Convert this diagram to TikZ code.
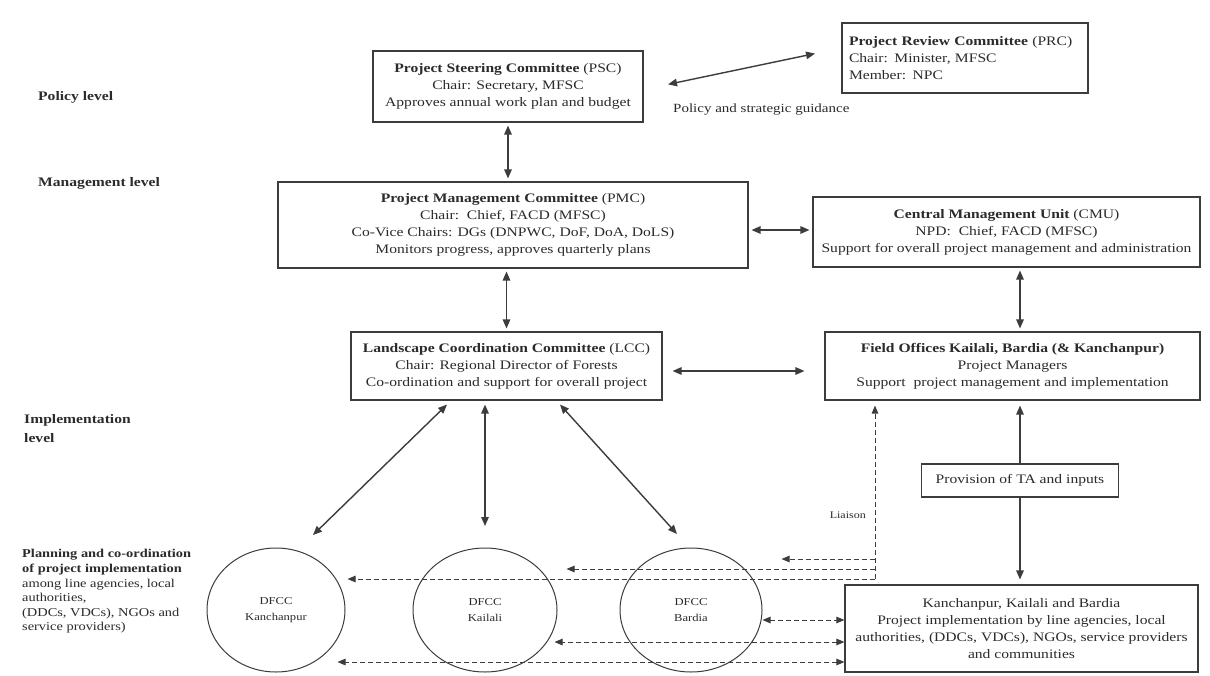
\documentclass[tikz,border=0pt]{standalone}
\usepackage{fontspec}
\setmainfont{Liberation Serif}[FakeStretch=1.2]
\usetikzlibrary{arrows.meta,shapes.geometric,calc}
\definecolor{ink}{HTML}{2B2B2B}
\definecolor{linec}{HTML}{3C3C3C}
\begin{document}
\begin{tikzpicture}[x=1pt,y=-1pt,
  cbox/.style={draw=linec,line width=1.1pt,align=center,inner sep=0pt,text=ink,font=\fontsize{13}{17}\selectfont},
  lab/.style={text=ink,align=left,inner sep=0pt,anchor=west},
  circ/.style={ellipse,draw=linec,line width=1pt,inner sep=0pt,align=center,text=ink,font=\fontsize{10.5}{16}\selectfont},
  arr/.style={draw=linec,line width=1.4pt,{Triangle[length=9pt,width=7.5pt]}-{Triangle[length=9pt,width=7.5pt]}},
  sarr/.style={draw=linec,line width=1.4pt,-{Triangle[length=9pt,width=7.5pt]}},
  darr/.style={draw=linec,line width=1pt,dash pattern=on 5pt off 3pt,-{Triangle[length=8pt,width=6.5pt]}},
  ddarr/.style={draw=linec,line width=1pt,dash pattern=on 5pt off 3pt,{Triangle[length=8pt,width=6.5pt]}-{Triangle[length=8pt,width=6.5pt]}}
]
\useasboundingbox[fill=white] (0,0) rectangle (1210,675);

% level labels
\node[lab,font=\bfseries\fontsize{13}{17}\selectfont] (pol) at (38,97) {Policy level};
\node[lab,font=\bfseries\fontsize{13}{17}\selectfont] (man) at (38,183) {Management level};
\node[lab,font=\bfseries\fontsize{13}{19}\selectfont] (imp) at (24,428.5) {Implementation\\level};
\node[lab,font=\fontsize{12}{14.6}\selectfont] (plan) at (22,591.5) {\textbf{Planning and co-ordination}\\\textbf{of project implementation}\\among line agencies, local\\authorities,\\(DDCs, VDCs), NGOs and\\service providers)};

% boxes
\node[cbox,minimum width=270,minimum height=71] (psc) at (508,86.5) {\textbf{Project Steering Committee} (PSC)\\Chair: Secretary, MFSC\\Approves annual work plan and budget};
\node[cbox,minimum width=246,minimum height=70,text width=232,align=left] (prc) at (965,58) {\textbf{Project Review Committee} (PRC)\\Chair: Minister, MFSC\\Member: NPC};
\node[cbox,minimum width=470,minimum height=86] (pmc) at (513,225) {\textbf{Project Management Committee} (PMC)\\Chair:\ \ Chief, FACD (MFSC)\\Co-Vice Chairs: DGs (DNPWC, DoF, DoA, DoLS)\\Monitors progress, approves quarterly plans};
\node[cbox,minimum width=387,minimum height=70] (cmu) at (1006.5,232) {\textbf{Central Management Unit} (CMU)\\NPD:\ \ Chief, FACD (MFSC)\\Support for overall project management and administration};
\node[cbox,minimum width=311,minimum height=68] (lcc) at (506.5,366) {\textbf{Landscape Coordination Committee} (LCC)\\Chair: Regional Director of Forests\\Co-ordination and support for overall project};
\node[cbox,minimum width=375,minimum height=68] (field) at (1012.5,366) {\textbf{Field Offices Kailali, Bardia (\& Kanchanpur)}\\Project Managers\\Support\ \ project management and implementation};
\node[cbox,minimum width=197,minimum height=33] (prov) at (1020,480.5) {Provision of TA and inputs};
\node[cbox,minimum width=353,minimum height=87] (bot) at (1021.5,628.5) {Kanchanpur, Kailali and Bardia\\Project implementation by line agencies, local\\authorities, (DDCs, VDCs), NGOs, service providers\\and communities};

% circles
\node[circ,minimum width=138,minimum height=124] (kan) at (276,610) {DFCC\\Kanchanpur};
\node[circ,minimum width=144,minimum height=124] (kai) at (485,610) {DFCC\\Kailali};
\node[circ,minimum width=142,minimum height=124] (bar) at (691,610) {DFCC\\Bardia};

% labels
\node[lab,font=\fontsize{12.5}{15}\selectfont] (psg) at (673,110) {Policy and strategic guidance};
\node[lab,anchor=east,font=\fontsize{10}{12}\selectfont] (lia) at (866,515) {Liaison};

% solid connectors
\draw[arr,shorten <=25pt,shorten >=27pt] ([yshift=-3pt]psc.east) -- ([yshift=10pt]prc.west);
\draw[arr,shorten <=3pt,shorten >=3pt] (psc.south) -- (psc.south |- pmc.north);
\draw[arr,shorten <=3pt,shorten >=3pt] (lcc.north |- pmc.south) -- (lcc.north);
\draw[arr,shorten <=3pt,shorten >=3pt] ([yshift=-5pt]pmc.east) -- ([yshift=-5pt]pmc.east -| cmu.west);
\draw[arr,shorten <=3pt,shorten >=3pt] (cmu.south -| prov.north) -- (field.north -| prov.north);
\draw[arr,shorten <=10pt,shorten >=20pt] ([yshift=-5pt]lcc.east) -- ([yshift=-5pt]lcc.east -| field.west);
\draw[sarr,shorten >=5pt] (prov.north) -- (prov.north |- field.south);
\draw[sarr,shorten >=5pt] (prov.south) -- (prov.south |- bot.north);

\coordinate (ua) at ($(lcc.south)+(-59.5,4)$);
\coordinate (ub) at ($(lcc.south)+(-21.5,4)$);
\coordinate (uc) at ($(lcc.south)+(53.5,4)$);
\coordinate (ka) at ($(kan.center)+(37,-75)$);
\coordinate (kb) at ($(kai.center)+(0,-84)$);
\coordinate (kc) at ($(bar.center)+(-14,-76)$);
\draw[arr] (ua) -- (ka);
\draw[arr] (ub) -- (kb);
\draw[arr] (uc) -- (kc);

% liaison dashed
\coordinate (l1) at (875,559);
\coordinate (l2) at (875,569);
\coordinate (l3) at (875,579);
\draw[darr,shorten >=5pt] (l3) -- (l3 |- field.south);
\draw[darr,shorten >=19pt] (l1) -- (l1 -| bar.east);
\draw[darr,shorten >=9pt] (l2) -- (l2 -| kai.east);
\draw[darr,shorten >=2pt] (l3) -- (l3 -| kan.east);

% bottom dashed
\coordinate (b1) at ([yshift=-10pt]bar.east);
\coordinate (b2) at ($(bot.west)+(0,13.5)$);
\coordinate (b3) at ($(bot.west)+(0,33.5)$);
\draw[ddarr] (b1) -- (b1 -| bot.west);
\draw[ddarr,shorten >=-3pt] (b2) -- (b2 -| kai.east);
\draw[ddarr,shorten >=-8pt] (b3) -- (b3 -| kan.east);
\end{tikzpicture}
\end{document}
